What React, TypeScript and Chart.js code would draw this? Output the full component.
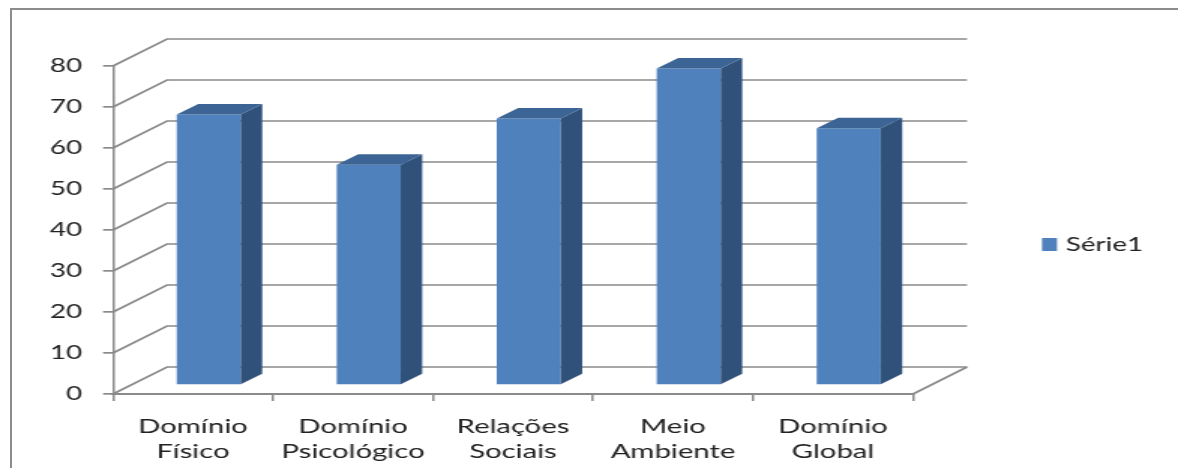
import React, { useEffect, useRef } from "react";
import { Chart, registerables } from "chart.js";

Chart.register(...registerables);

// ---- data ----
const categories: string[][] = [
  ["Domínio", "Físico"],
  ["Domínio", "Psicológico"],
  ["Relações", "Sociais"],
  ["Meio", "Ambiente"],
  ["Domínio", "Global"],
];
const seriesName = "Série1";
const seriesValues = [66.0, 53.7, 65.0, 77.2, 62.6];
const yMin = 0;
const yMax = 80;
const yStep = 10;

// ---- layout / style ----
const PAGE_W = 1178;
const PAGE_H = 468;
const CANVAS_W = 785;
const SX = PAGE_W / CANVAS_W;
const px = (v: number) => v / SX;

const WALL_DX = px(54);
const WALL_DY = -27;
const BAR_DX = px(15.7);
const BAR_DY = -9;
const DEPTH_DX = px(21.5);
const DEPTH_DY = -10.5;
const GRID = "#8a8a8a";
const FRONT = "#4f81bd";
const TOP = "#3c6494";
const SIDE = "#30527a";
const TEXT = "#222222";

const threeD = {
  id: "threeD",
  beforeDatasetsDraw(chart: any) {
    const { ctx, chartArea: a, scales } = chart;
    const y = scales.y;
    ctx.save();
    ctx.strokeStyle = GRID;
    ctx.lineWidth = 1.7;
    y.ticks.forEach((t: any) => {
      const yy = y.getPixelForValue(t.value);
      ctx.beginPath();
      ctx.moveTo(a.left, yy);
      ctx.lineTo(a.left + WALL_DX, yy + WALL_DY);
      ctx.lineTo(a.right + WALL_DX, yy + WALL_DY);
      ctx.stroke();
    });
    const y0 = y.getPixelForValue(yMin);
    ctx.beginPath();
    ctx.moveTo(a.right, y0);
    ctx.lineTo(a.right + WALL_DX, y0 + WALL_DY);
    ctx.stroke();
    ctx.restore();
    ctx.save();
    ctx.translate(BAR_DX, BAR_DY);
  },
  afterDatasetsDraw(chart: any) {
    const { ctx } = chart;
    const meta = chart.getDatasetMeta(0);
    meta.data.forEach((bar: any) => {
      const { x, y, base, width } = bar.getProps(["x", "y", "base", "width"], true);
      const l = x - width / 2;
      const r = x + width / 2;
      ctx.fillStyle = SIDE;
      ctx.beginPath();
      ctx.moveTo(r, y);
      ctx.lineTo(r + DEPTH_DX, y + DEPTH_DY);
      ctx.lineTo(r + DEPTH_DX, base + DEPTH_DY);
      ctx.lineTo(r, base);
      ctx.closePath();
      ctx.fill();
      ctx.fillStyle = TOP;
      ctx.beginPath();
      ctx.moveTo(l, y);
      ctx.lineTo(l + DEPTH_DX, y + DEPTH_DY);
      ctx.lineTo(r + DEPTH_DX, y + DEPTH_DY);
      ctx.lineTo(r, y);
      ctx.closePath();
      ctx.fill();
    });
    ctx.restore();
  },
  afterDraw(chart: any) {
    const { ctx } = chart;
    const ds = chart.data.datasets[0];
    ctx.save();
    ctx.fillStyle = ds.backgroundColor;
    ctx.fillRect(px(1042), 238, px(15), 13);
    ctx.font = "18.5px Lato";
    ctx.fillStyle = TEXT;
    ctx.textBaseline = "middle";
    ctx.textAlign = "left";
    ctx.fillText(ds.label, px(1066), 245);
    ctx.restore();
  },
};

export default function App() {
  const ref = useRef<HTMLCanvasElement>(null);
  useEffect(() => {
    document.body.style.margin = "0";
    document.documentElement.style.overflow = "hidden";
    const chart = new Chart(ref.current as HTMLCanvasElement, {
      type: "bar",
      data: {
        labels: categories,
        datasets: [
          {
            label: seriesName,
            data: seriesValues,
            backgroundColor: FRONT,
            borderWidth: 0,
            barPercentage: 0.4,
            categoryPercentage: 1,
            clip: false,
          } as any,
        ],
      },
      options: {
        animation: false,
        responsive: true,
        maintainAspectRatio: false,
        events: [],
        layout: { padding: { top: 66, right: CANVAS_W - px(913), left: 0, bottom: 0 } },
        plugins: { legend: { display: false }, tooltip: { enabled: false } },
        scales: {
          x: {
            offset: true,
            afterFit: (s: any) => {
              s.height = PAGE_H - 394;
            },
            grid: { offset: true, drawOnChartArea: false, drawTicks: true, tickLength: 7, color: GRID, lineWidth: 1.5 },
            border: { color: GRID, width: 2 },
            ticks: {
              color: TEXT,
              font: { family: "Lato", size: 19.5, lineHeight: 1.3 },
              padding: 13,
              maxRotation: 0,
              autoSkip: false,
            },
          },
          y: {
            min: yMin,
            max: yMax,
            afterFit: (s: any) => {
              s.width = px(113);
            },
            grid: { drawOnChartArea: false, drawTicks: true, tickLength: px(10), color: GRID, lineWidth: 1.7 },
            border: { color: GRID, width: 1.5 },
            ticks: {
              stepSize: yStep,
              color: TEXT,
              font: { family: "Lato", size: 18.5 },
              padding: 14,
            },
          },
        },
      },
      plugins: [threeD],
    });
    return () => chart.destroy();
  }, []);

  return (
    <div style={{ position: "relative", width: PAGE_W, height: PAGE_H, overflow: "hidden", background: "#fff" }}>
      <div
        style={{
          position: "absolute",
          left: 0,
          top: 0,
          width: CANVAS_W,
          height: PAGE_H,
          transform: `scaleX(${SX})`,
          transformOrigin: "0 0",
        }}
      >
        <canvas ref={ref} />
      </div>
      <div
        style={{
          position: "absolute",
          left: 10,
          top: 8,
          width: 3000,
          height: 3000,
          borderLeft: "2px solid #8c8c8c",
          borderTop: "2px solid #8c8c8c",
          pointerEvents: "none",
        }}
      />
    </div>
  );
}
